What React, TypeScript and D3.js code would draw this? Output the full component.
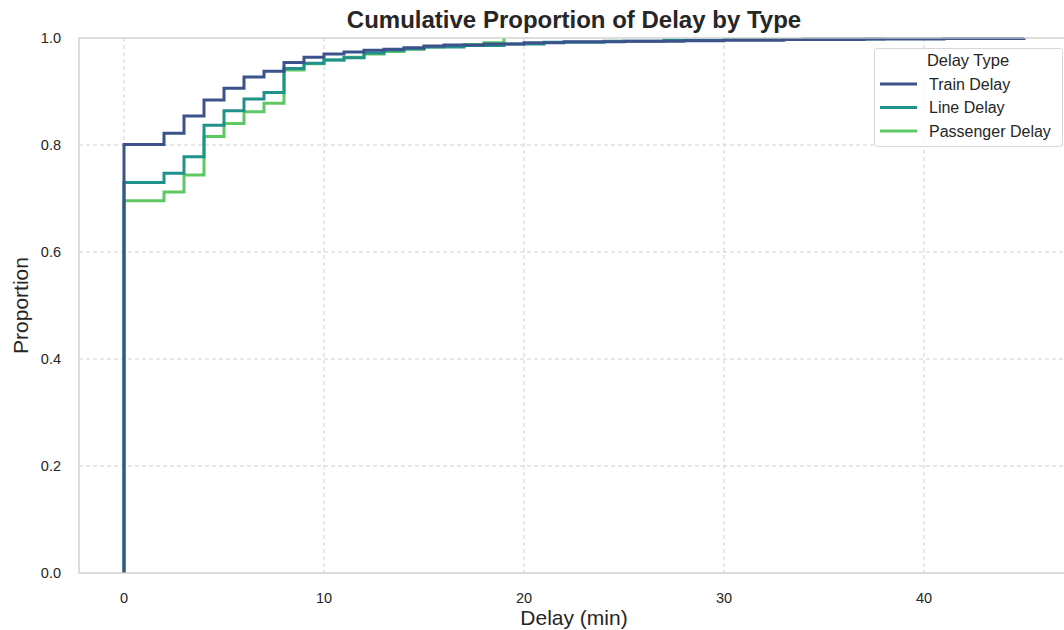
import React from "react";
import * as d3 from "d3";

const seriesNames = ["Train Delay", "Line Delay", "Passenger Delay"];
const seriesColors = ["#3b528b", "#21918c", "#5ec962"];

const trainDelays = [0, 2, 3, 4, 5, 6, 7, 8, 9, 10, 11, 12, 13, 14, 15, 16, 18, 20, 22, 25, 28, 30, 33, 37, 41, 45];
const trainProps = [0.801, 0.822, 0.854, 0.884, 0.906, 0.927, 0.938, 0.954, 0.964, 0.970, 0.974, 0.977, 0.979, 0.982, 0.985, 0.987, 0.989, 0.991, 0.993, 0.994, 0.995, 0.996, 0.997, 0.998, 0.999, 1.0];

const lineDelays = [0, 2, 3, 4, 5, 6, 7, 8, 9, 10, 11, 12, 13, 14, 15, 17, 19, 21, 24, 27, 30, 34, 38];
const lineProps = [0.730, 0.747, 0.778, 0.837, 0.864, 0.886, 0.898, 0.943, 0.953, 0.959, 0.963, 0.972, 0.977, 0.980, 0.983, 0.986, 0.989, 0.992, 0.994, 0.996, 0.997, 0.998, 1.0];

const passDelays = [0, 2, 3, 4, 5, 6, 7, 8, 9, 10, 11, 12, 13, 14, 15, 16, 17, 18, 19];
const passProps = [0.696, 0.712, 0.744, 0.816, 0.840, 0.862, 0.878, 0.940, 0.952, 0.959, 0.964, 0.970, 0.975, 0.979, 0.983, 0.986, 0.988, 0.991, 1.0];

const xTicks = [0, 10, 20, 30, 40];
const yTicks = [0, 0.2, 0.4, 0.6, 0.8, 1.0];

const W = 1064, H = 630;
const margin = { left: 79, right: 1069, top: 38, bottom: 573 };

export default function App() {
  const x = d3.scaleLinear().domain([-2.25, 47.25]).range([margin.left, margin.right]);
  const y = d3.scaleLinear().domain([0, 1]).range([margin.bottom, margin.top]);
  const line = d3.line<[number, number]>().x(d => x(d[0])).y(d => y(d[1])).curve(d3.curveStepAfter);

  const series = [
    { d: trainDelays, p: trainProps },
    { d: lineDelays, p: lineProps },
    { d: passDelays, p: passProps },
  ];
  const font = "'Liberation Sans', Arial, sans-serif";
  const txt = "#262626";
  const drawOrder = [2, 1, 0];

  return (
    <svg width={W} height={H} style={{ position: "absolute", left: 0, top: 0, background: "#fff" }} fontFamily={font}>
      <rect x={0} y={0} width={W} height={H} fill="#fff" />
      <defs>
        <clipPath id="plotclip">
          <rect x={margin.left} y={margin.top - 3} width={margin.right - margin.left} height={margin.bottom - margin.top + 3} />
        </clipPath>
      </defs>
      {xTicks.map(t => (
        <line key={"gx" + t} x1={x(t)} x2={x(t)} y1={margin.top} y2={margin.bottom} stroke="#d0d0d0" strokeWidth={1} strokeDasharray="4,3" />
      ))}
      {yTicks.filter(t => t > 0 && t < 1).map(t => (
        <line key={"gy" + t} x1={margin.left} x2={margin.right} y1={y(t)} y2={y(t)} stroke="#d0d0d0" strokeWidth={1} strokeDasharray="4,3" />
      ))}
      <g clipPath="url(#plotclip)">
        {drawOrder.map(i => {
          const s = series[i];
          const pts: [number, number][] = [[s.d[0], 0], ...s.d.map((dv, j) => [dv, s.p[j]] as [number, number])];
          return <path key={i} d={line(pts) || ""} fill="none" stroke={seriesColors[i]} strokeWidth={3} />;
        })}
      </g>
      <rect x={margin.left} y={margin.top} width={margin.right - margin.left} height={margin.bottom - margin.top} fill="none" stroke="#cccccc" strokeWidth={1.3} />
      {xTicks.map(t => (
        <text key={"tx" + t} x={x(t)} y={603} textAnchor="middle" fontSize={14.5} fill={txt}>{t}</text>
      ))}
      {yTicks.map(t => (
        <text key={"ty" + t} x={61} y={y(t) + 5} textAnchor="end" fontSize={14.5} fill={txt}>{t.toFixed(1)}</text>
      ))}
      <text x={(margin.left + margin.right) / 2} y={625} textAnchor="middle" fontSize={21} fill={txt}>Delay (min)</text>
      <text transform={`translate(28,${(margin.top + margin.bottom) / 2}) rotate(-90)`} textAnchor="middle" fontSize={21} fill={txt}>Proportion</text>
      <text x={(margin.left + margin.right) / 2} y={28} textAnchor="middle" fontSize={24} fontWeight="bold" fill={txt}>Cumulative Proportion of Delay by Type</text>
      <g>
        <rect x={874.5} y={48.5} width={188} height={98} rx={3} fill="#fff" fillOpacity={0.85} stroke="#d6d6d6" strokeWidth={1} />
        <text x={968} y={66} textAnchor="middle" fontSize={16.5} fill={txt}>Delay Type</text>
        {seriesNames.map((n, i) => (
          <g key={n}>
            <line x1={880} x2={917} y1={84 + i * 23.5} y2={84 + i * 23.5} stroke={seriesColors[i]} strokeWidth={3} />
            <text x={929} y={89.5 + i * 23.5} fontSize={16} fill={txt}>{n}</text>
          </g>
        ))}
      </g>
    </svg>
  );
}
